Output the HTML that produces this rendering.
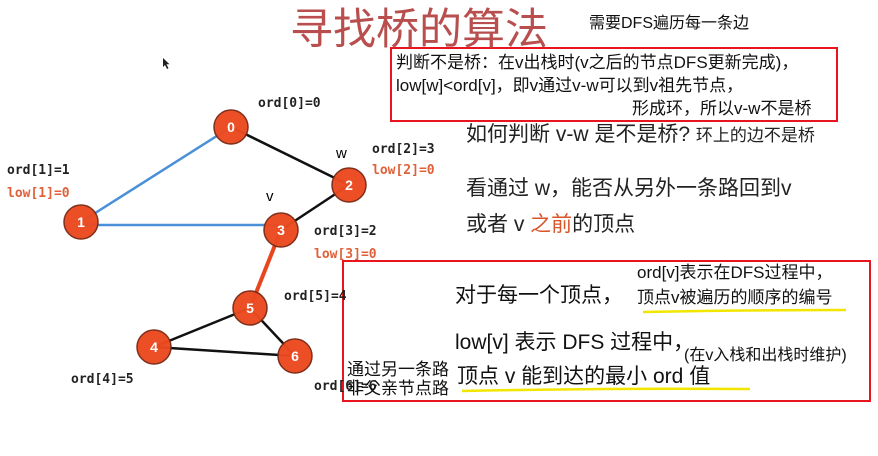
<!DOCTYPE html>
<html><head><meta charset="utf-8"><style>
body{margin:0;background:#fff;}
#c{position:relative;width:878px;height:456px;overflow:hidden;font-family:"Liberation Sans","Noto Sans CJK SC",sans-serif;}
.t{position:absolute;white-space:nowrap;line-height:1;}
.m{font-family:"DejaVu Sans Mono","Liberation Mono",monospace;font-weight:bold;font-size:13px;color:#222;}
.r{color:#e0603a;}
</style></head><body><div id="c">
<svg width="878" height="456" style="position:absolute;left:0;top:0">
<line x1="231" y1="127" x2="81" y2="222" stroke="#4a90d9" stroke-width="2.5"/>
<line x1="81" y1="225" x2="281" y2="225" stroke="#4a90d9" stroke-width="2.5"/>
<line x1="231" y1="127" x2="349" y2="185" stroke="#111" stroke-width="2.5"/>
<line x1="349" y1="185" x2="281" y2="230" stroke="#111" stroke-width="2.5"/>
<line x1="281" y1="230" x2="250" y2="308" stroke="#e8461e" stroke-width="4"/>
<line x1="250" y1="308" x2="154" y2="347" stroke="#111" stroke-width="2.5"/>
<line x1="250" y1="308" x2="295" y2="356" stroke="#111" stroke-width="2.5"/>
<line x1="154" y1="347" x2="295" y2="356" stroke="#111" stroke-width="2.5"/>
<g fill="#ec4a20" stroke="#7a2a15" stroke-width="1.5" opacity="0.97">
<circle cx="231" cy="127" r="17"/><circle cx="349" cy="185" r="17"/><circle cx="281" cy="230" r="17"/>
<circle cx="81" cy="222" r="17"/><circle cx="250" cy="308" r="17"/><circle cx="154" cy="347" r="17"/><circle cx="295" cy="356" r="17"/>
</g>
<g fill="#fff" font-family="Liberation Sans,sans-serif" font-weight="bold" font-size="14" text-anchor="middle">
<text x="231" y="132">0</text><text x="349" y="190">2</text><text x="281" y="235">3</text><text x="81" y="227">1</text>
<text x="250" y="313">5</text><text x="154" y="352">4</text><text x="295" y="361">6</text>
</g>
<path d="M163 58 l0 9 l2 -2 l2 4 l1.5 -.7 l-2 -4 l3 0 z" fill="#222"/>
<rect x="391" y="48" width="446" height="73" fill="none" stroke="#e8141e" stroke-width="2"/>
<rect x="343" y="261" width="527" height="140" fill="none" stroke="#e8141e" stroke-width="2"/>
<path d="M643 312 Q740 310 846 310" stroke="#f2e600" stroke-width="2.5" fill="none"/>
<path d="M462 391 Q600 388 750 389" stroke="#f2e600" stroke-width="2.5" fill="none"/>
</svg>
<div class="t" style="left:290px;top:9px;font-size:43px;color:#b84e4e;">寻找桥的算法</div>
<div class="t" style="left:589px;top:16px;font-size:16px;color:#111;">需要DFS遍历每一条边</div>
<div class="t" style="left:396px;top:54px;font-size:17px;color:#111;">判断不是桥：在v出栈时(v之后的节点DFS更新完成)，</div>
<div class="t" style="left:396px;top:77px;font-size:17px;color:#111;">low[w]&lt;ord[v]，即v通过v-w可以到v祖先节点，</div>
<div class="t" style="left:632px;top:100px;font-size:17px;color:#111;">形成环，所以v-w不是桥</div>
<div class="t" style="left:466px;top:124px;font-size:21px;color:#222;">如何判断 v-w 是不是桥? <span style="font-size:17px">环上的边不是桥</span></div>
<div class="t" style="left:466px;top:178px;font-size:21px;color:#222;">看通过 w，能否从另外一条路回到v</div>
<div class="t" style="left:466px;top:214px;font-size:21px;color:#222;">或者 v <span style="color:#d9552a">之前</span>的顶点</div>
<div class="t m" style="left:258px;top:97px;">ord[0]=0</div>
<div class="t" style="left:336px;top:146px;font-size:15px;">w</div>
<div class="t m" style="left:372px;top:143px;">ord[2]=3</div>
<div class="t m r" style="left:372px;top:164px;">low[2]=0</div>
<div class="t m" style="left:7px;top:164px;">ord[1]=1</div>
<div class="t m r" style="left:7px;top:187px;">low[1]=0</div>
<div class="t" style="left:266px;top:189px;font-size:15px;">v</div>
<div class="t m" style="left:314px;top:225px;">ord[3]=2</div>
<div class="t m r" style="left:314px;top:248px;">low[3]=0</div>
<div class="t m" style="left:284px;top:290px;">ord[5]=4</div>
<div class="t m" style="left:71px;top:373px;">ord[4]=5</div>
<div class="t m" style="left:314px;top:380px;">ord[6]=6</div>
<div class="t" style="left:455px;top:285px;font-size:21px;color:#111;">对于每一个顶点，</div>
<div class="t" style="left:637px;top:264px;font-size:17px;color:#111;">ord[v]表示在DFS过程中，</div>
<div class="t" style="left:637px;top:289px;font-size:17px;color:#111;">顶点v被遍历的顺序的编号</div>
<div class="t" style="left:455px;top:332px;font-size:21px;color:#111;">low[v] 表示 DFS 过程中，</div>
<div class="t" style="left:684px;top:348px;font-size:16px;color:#111;">(在v入栈和出栈时维护)</div>
<div class="t" style="left:457px;top:366px;font-size:21px;color:#111;">顶点 v 能到达的最小 ord 值</div>
<div class="t" style="left:347px;top:361px;font-size:17px;color:#111;">通过另一条路</div>
<div class="t" style="left:347px;top:380px;font-size:17px;color:#111;">非父亲节点路</div>
</div></body></html>
